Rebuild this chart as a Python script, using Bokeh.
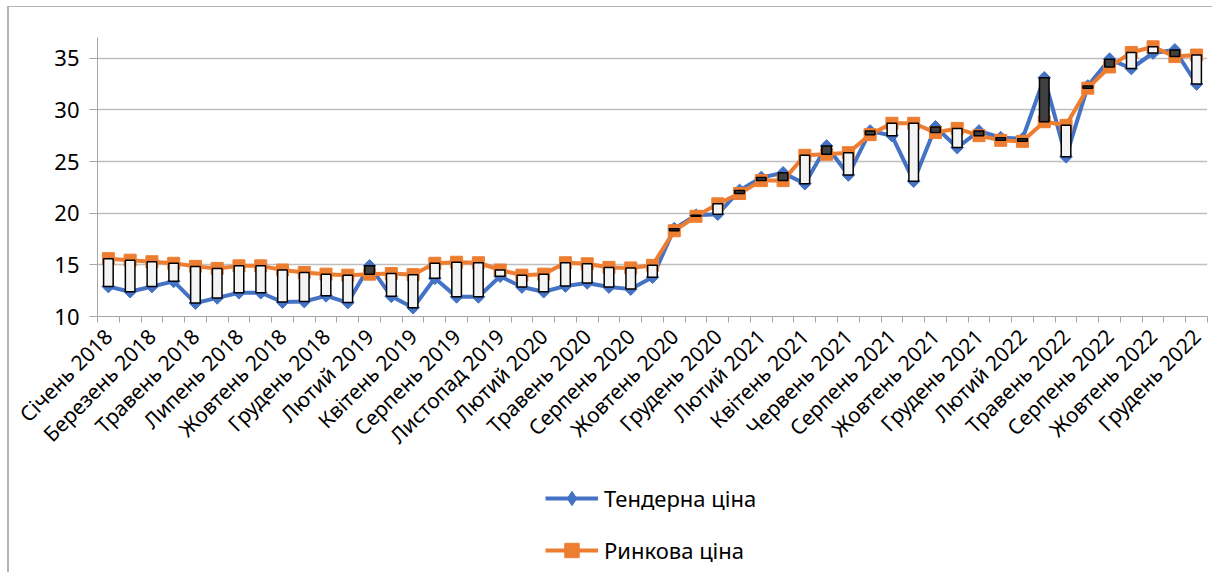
import math
from bokeh.plotting import figure
from bokeh.layouts import column
from bokeh.models import (ColumnDataSource, FixedTicker, Legend, LegendItem, Range1d)
from bokeh.embed import file_html
from bokeh.resources import INLINE

# ---- data -------------------------------------------------------------
months = [
    "Січень 2018", "Лютий 2018", "Березень 2018", "Квітень 2018", "Травень 2018",
    "Червень 2018", "Липень 2018", "Серпень 2018", "Жовтень 2018", "Листопад 2018",
    "Грудень 2018", "Січень 2019", "Лютий 2019", "Березень 2019", "Квітень 2019",
    "Травень 2019", "Серпень 2019", "Вересень 2019", "Листопад 2019", "Грудень 2019",
    "Лютий 2020", "Березень 2020", "Травень 2020", "Червень 2020", "Серпень 2020",
    "Вересень 2020", "Жовтень 2020", "Листопад 2020", "Грудень 2020", "Січень 2021",
    "Лютий 2021", "Березень 2021", "Квітень 2021", "Травень 2021", "Червень 2021",
    "Липень 2021", "Серпень 2021", "Вересень 2021", "Жовтень 2021", "Листопад 2021",
    "Грудень 2021", "Січень 2022", "Лютий 2022", "Квітень 2022", "Травень 2022",
    "Липень 2022", "Серпень 2022", "Вересень 2022", "Жовтень 2022", "Листопад 2022",
    "Грудень 2022",
]

tender = [
    12.9, 12.4, 12.9, 13.4, 11.3, 11.8, 12.3, 12.3, 11.4, 11.45,
    12.0, 11.35, 14.9, 11.95, 10.85, 13.7, 11.9, 11.9, 13.9, 12.85,
    12.4, 12.95, 13.25, 12.85, 12.65, 13.8, 18.5, 19.8, 19.9, 22.2,
    23.45, 23.9, 22.85, 26.5, 23.7, 27.95, 27.5, 23.1, 28.35, 26.35,
    27.95, 27.3, 27.2, 33.1, 25.45, 32.3, 34.9, 34.0, 35.5, 35.8,
    32.5,
]

market = [
    15.6, 15.45, 15.3, 15.15, 14.85, 14.65, 14.9, 14.9, 14.5, 14.25,
    14.1, 14.0, 14.1, 14.15, 14.05, 15.15, 15.25, 15.2, 14.5, 14.0,
    14.1, 15.2, 15.1, 14.75, 14.7, 14.95, 18.3, 19.7, 20.9, 21.9,
    23.15, 23.15, 25.6, 25.7, 25.85, 27.6, 28.7, 28.7, 27.8, 28.2,
    27.5, 27.05, 26.95, 28.85, 28.5, 32.1, 34.15, 35.55, 36.1, 35.15,
    35.3,
]

y_ticks = [10, 15, 20, 25, 30, 35]
series_names = ["Тендерна ціна", "Ринкова ціна"]

# ---- derived ----------------------------------------------------------
n = len(months)
xs = list(range(n))
label_ticks = list(range(0, n, 2))
label_overrides = {i: months[i] for i in label_ticks}
boundary_ticks = [i - 0.5 for i in range(n + 1)]

src = ColumnDataSource(dict(
    x=xs,
    tender=tender,
    market=market,
    top=[max(t, m) for t, m in zip(tender, market)],
    bottom=[min(t, m) for t, m in zip(tender, market)],
    fill=["#f4f4f4" if m >= t else "#404040" for t, m in zip(tender, market)],
))

FONT = "Noto Sans"
BLUE = "#4472C4"
ORANGE = "#ED7D31"
AXIS = "#a6a6a6"

W = 1203
MAIN_H = 459
LEG_H = 106

p = figure(
    width=W, height=MAIN_H,
    x_range=Range1d(-0.5, n - 0.5), y_range=Range1d(10, 37),
    output_backend="svg", toolbar_location=None,
    min_border_left=88, min_border_right=5, min_border_top=30, min_border_bottom=150,
)
p.outline_line_color = None

# axes
xa = p.xaxis[0]
xa.ticker = FixedTicker(ticks=label_ticks, minor_ticks=boundary_ticks)
xa.major_label_overrides = label_overrides
xa.major_label_orientation = math.pi / 4
xa.major_tick_out = 0
xa.major_tick_in = 0
xa.minor_tick_out = 6
xa.minor_tick_in = 0
xa.minor_tick_line_color = AXIS
xa.axis_line_color = AXIS
xa.major_label_text_font = FONT
xa.major_label_text_font_size = "21px"
xa.major_label_text_color = "#000000"
xa.major_label_standoff = 10

ya = p.yaxis[0]
ya.ticker = FixedTicker(ticks=y_ticks)
ya.major_tick_out = 8
ya.major_tick_in = 0
ya.minor_tick_line_color = None
ya.major_tick_line_color = AXIS
ya.axis_line_color = AXIS
ya.major_label_text_font = FONT
ya.major_label_text_font_size = "22px"
ya.major_label_text_color = "#000000"
ya.major_label_standoff = 10

p.xgrid.grid_line_color = None
p.ygrid.ticker = FixedTicker(ticks=y_ticks)
p.ygrid.grid_line_color = "#bfbfbf"
p.ygrid.grid_line_width = 1.3

# series
p.line("x", "tender", source=src, line_color=BLUE, line_width=4)
p.scatter("x", "tender", source=src, marker="square", angle=math.pi / 4,
          size=9, fill_color=BLUE, line_color=BLUE)
p.line("x", "market", source=src, line_color=ORANGE, line_width=4)
p.scatter("x", "market", source=src, marker="square", size=12,
          fill_color=ORANGE, line_color=ORANGE)

# up-down bars
p.vbar(x="x", width=0.44, top="top", bottom="bottom", source=src,
       fill_color="fill", line_color="#000000", line_width=1.5)

# ---- legend panel (separate figure under the chart) -------------------
# its renderers use the same data, but its ranges keep them out of view;
# they only supply the legend's line and marker styles
lg = figure(
    width=W, height=LEG_H, x_range=Range1d(0, 1), y_range=Range1d(0, 1),
    output_backend="svg", toolbar_location=None,
    x_axis_location=None, y_axis_location=None,
    min_border_left=0, min_border_right=0, min_border_top=0, min_border_bottom=0,
)
lg.grid.visible = False
lg.outline_line_color = None
r1 = lg.line("x", "tender", source=src, line_color=BLUE, line_width=4)
m1 = lg.scatter("x", "tender", source=src, marker="diamond",
                fill_color=BLUE, line_color=BLUE)
r2 = lg.line("x", "market", source=src, line_color=ORANGE, line_width=4)
m2 = lg.scatter("x", "market", source=src, marker="square",
                fill_color=ORANGE, line_color=ORANGE)

legend = Legend(
    items=[LegendItem(label=series_names[0], renderers=[r1, m1]),
           LegendItem(label=series_names[1], renderers=[r2, m2])],
    location=(444, 0), orientation="vertical",
    label_text_font=FONT, label_text_font_size="22px", label_text_color="#000000",
    glyph_width=53, glyph_height=36, label_height=36, spacing=16,
    border_line_alpha=0, background_fill_alpha=0, padding=4, margin=0,
    label_standoff=6,
)
lg.add_layout(legend, "center")

layout = column(p, lg, spacing=0)
layout.styles = {
    "border-top": "1px solid #b4b4b4",
    "border-left": "2px solid #b4b4b4",
    "position": "relative",
    "top": "6px",
    "left": "7px",
}

open("out.html", "w").write(file_html(layout, INLINE))
